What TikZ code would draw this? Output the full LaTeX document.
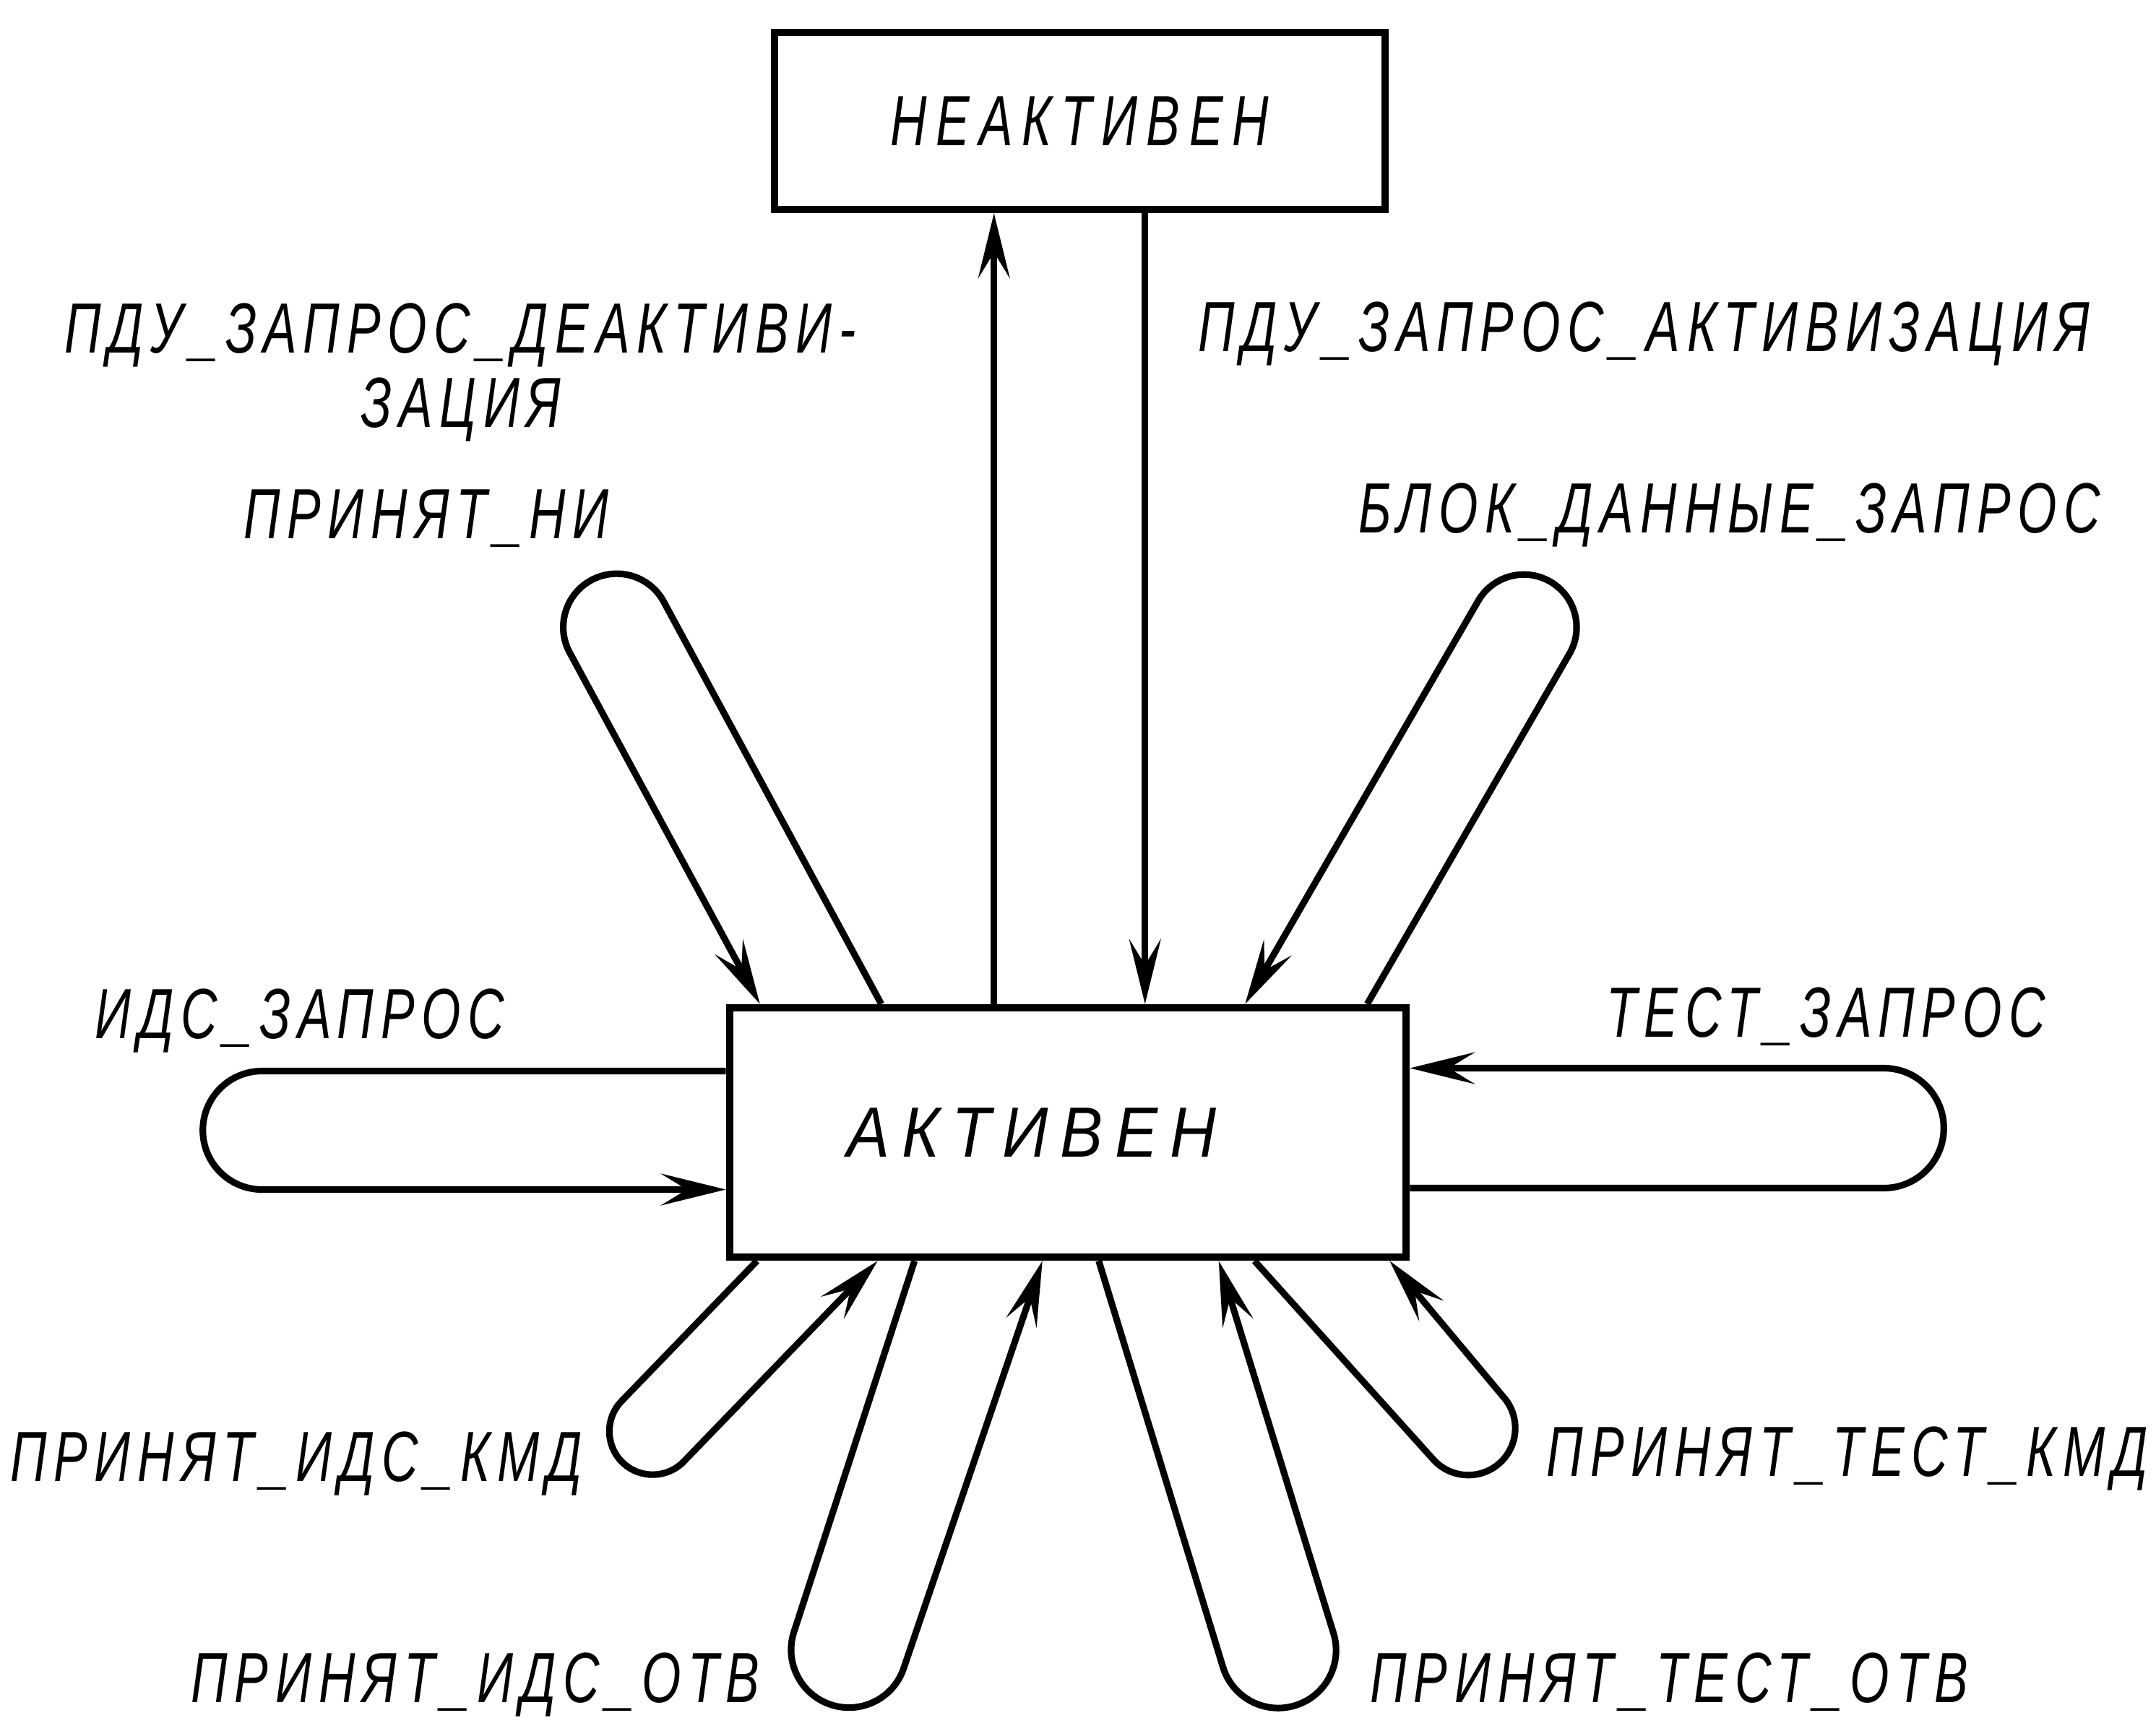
\documentclass[tikz,border=0pt]{standalone}
\usepackage{fontspec}
\newfontfamily\lblfont{Liberation Sans}[FakeStretch=0.71,LetterSpace=10]
\newfontfamily\inactfont{Liberation Sans}[FakeStretch=0.71,LetterSpace=13]
\newfontfamily\actfont{Liberation Sans}[FakeStretch=0.9,LetterSpace=17]
\usetikzlibrary{arrows.meta, calc}
\tikzset{
  state/.style={
    rectangle, draw, line width=3pt,
    inner sep=0pt
  },
  sig/.style={-{Stealth[length=9mm, width=4.4mm, inset=3.6mm]}, line width=2.6pt, line join=round},
  lbl/.style={font=\lblfont\itshape\fontsize{28}{33}\selectfont, inner sep=0pt, anchor=base},
}

\begin{document}
\begin{tikzpicture}
\useasboundingbox (0,0) rectangle (29.84,-23.96);

\node[state, minimum width=8.45cm, minimum height=2.45cm,
  font=\inactfont\itshape\fontsize{28}{33}\selectfont] at (14.945,-1.675) (inact) {НЕАКТИВЕН};

\node[state, minimum width=9.36cm, minimum height=3.45cm,
  font=\actfont\itshape\fontsize{28}{33}\selectfont] at (14.78,-15.675) (act) {\kern-1cm АКТИВЕН};

% activation / deactivation
\coordinate (upA) at ([xshift=3.71cm]act.north west);
\coordinate (dnA) at ([xshift=5.80cm]act.north west);
\draw[sig] (upA) -- (upA |- inact.south);
\draw[sig] (dnA |- inact.south) -- (dnA);

% loops on top
\coordinate (niP) at ([xshift=2.15cm]act.north west);
\coordinate (niA) at ([xshift=0.47cm]act.north west);
\draw[sig] (niP) -- ++(118.4:6.33) arc[start angle=28.4, end angle=208.4, radius=0.74] -- (niA);

\coordinate (blP) at ([xshift=-0.59cm]act.north east);
\coordinate (blA) at ([xshift=-2.28cm]act.north east);
\draw[sig] (blP) -- ++(60:5.60) arc[start angle=-30, end angle=150, radius=0.73] -- (blA);

% loops on the sides
\coordinate (izP) at ([yshift=0.85cm]act.west);
\coordinate (izA) at ([yshift=-0.79cm]act.west);
\draw[sig] (izP) -- ++(180:6.42) arc[start angle=90, end angle=270, radius=0.82] -- (izA);

\coordinate (tzP) at ([yshift=-0.77cm]act.east);
\coordinate (tzA) at ([yshift=0.89cm]act.east);
\draw[sig] (tzP) -- ++(0:6.56) arc[start angle=-90, end angle=90, radius=0.83] -- (tzA);

% loops below
\coordinate (ikP) at ([xshift=0.43cm]act.south west);
\coordinate (ikA) at ([xshift=2.10cm]act.south west);
\draw[sig] (ikP) -- ++(226:2.70) arc[start angle=136, end angle=316, radius=0.60] -- (ikA);

\coordinate (ioP) at ([xshift=2.61cm]act.south west);
\coordinate (ioA) at ([xshift=4.38cm]act.south west);
\draw[sig] (ioP) -- ++(252:5.40) arc[start angle=162, end angle=342, radius=0.80] -- (ioA);

\coordinate (toP) at ([xshift=5.16cm]act.south west);
\coordinate (toA) at ([xshift=6.82cm]act.south west);
\draw[sig] (toP) -- ++(287:5.88) arc[start angle=197, end angle=377, radius=0.80] -- (toA);

\coordinate (tkP) at ([xshift=-2.15cm]act.south east);
\coordinate (tkA) at ([xshift=-0.28cm]act.south east);
\draw[sig] (tkP) -- ++(312:3.70) arc[start angle=222, end angle=402, radius=0.65] -- (tkA);

% labels
\node[lbl] (lDeact) at (6.37,-4.88) {ПДУ\_ЗАПРОС\_ДЕАКТИВИ-};
\node[lbl] (lDeact2) at (6.38,-5.91) {ЗАЦИЯ};
\node[lbl] (lAct) at (22.75,-4.86) {ПДУ\_ЗАПРОС\_АКТИВИЗАЦИЯ};
\node[lbl] (lNi) at (5.90,-7.45) {ПРИНЯТ\_НИ};
\node[lbl] (lBlok) at (23.94,-7.37) {БЛОК\_ДАННЫЕ\_ЗАПРОС};
\node[lbl] (lIdsZ) at (4.15,-14.37) {ИДС\_ЗАПРОС};
\node[lbl] (lTestZ) at (25.27,-14.35) {ТЕСТ\_ЗАПРОС};
\node[lbl] (lIdsKmd) at (4.10,-20.50) {ПРИНЯТ\_ИДС\_КМД};
\node[lbl] (lTestKmd) at (25.57,-20.43) {ПРИНЯТ\_ТЕСТ\_КМД};
\node[lbl] (lIdsOtv) at (6.58,-23.56) {ПРИНЯТ\_ИДС\_ОТВ};
\node[lbl] (lTestOtv) at (23.10,-23.56) {ПРИНЯТ\_ТЕСТ\_ОТВ};

\end{tikzpicture}
\end{document}
